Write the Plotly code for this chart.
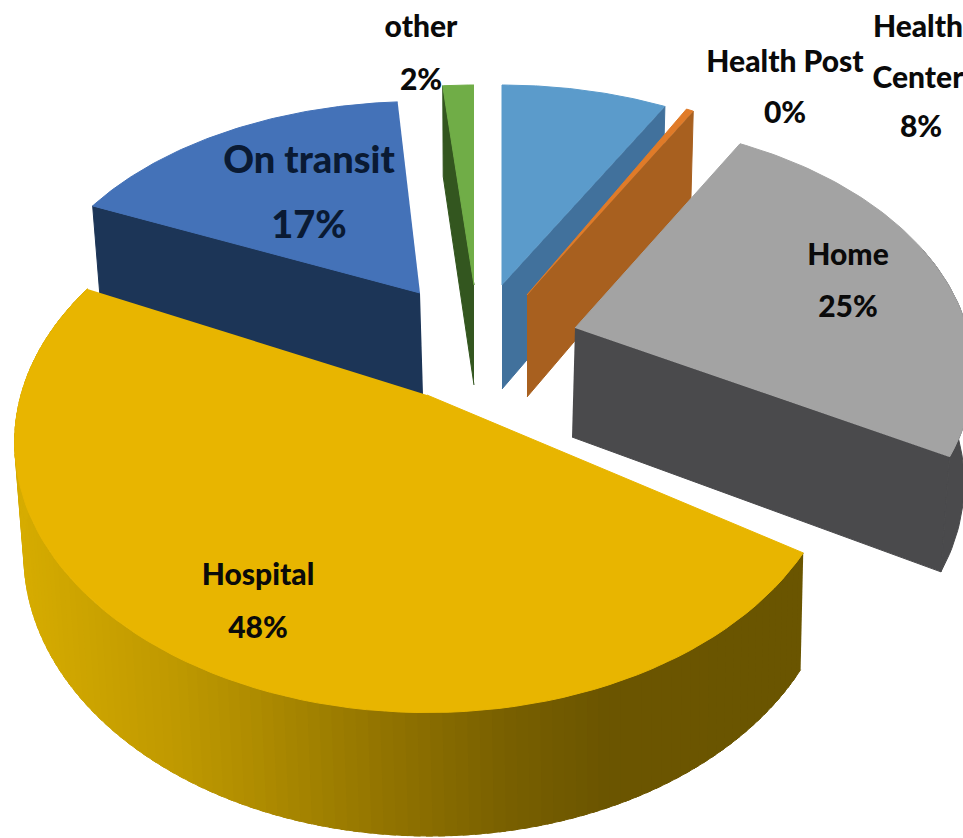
import numpy as np
import plotly.graph_objects as go

# data (clockwise from 12 o'clock)
categories = ["Health Center", "Health Post", "Home", "Hospital", "On transit", "other"]
values = [8.0, 0.4, 25.0, 48.0, 17.1, 1.5]

# styles / layout, per category
top_colors = ["#5B9BCB", "#E07B28", "#A3A3A3", "#E8B500", "#4472B8", "#70AD47"]
wall_colors = ["#41719C", "#A8601F", "#4A4A4C", "#6B5500", "#1C3557", "#33561F"]
apex_x = [502, 527, 575, 427, 420, 474]
apex_y = [285, 295, 328, 395, 293, 285]
radius_x = [390, 380, 392, 406, 386, 390]
radius_y = [235, 245, 243, 262, 225, 235]
wall_h = [104, 102, 109, 110, 102, 100]
wall_dx = [0, 0, -3, 3, 3, 0]
rotation = [0, 0, -1.2, 2.8, 1.5, 0]
draw_order = [5, 0, 1, 4, 2, 3]
# which radial face shows for each drawn slice ("start", "end" or None)
radial_face = {"Health Center": "end", "Health Post": "end", "Home": "end",
               "Hospital": None, "On transit": "start", "other": "start"}

PERSP = 0.175
label_names = ["other", "Health Post", "Health", "Center", "Home", "Hospital", "On transit"]
name_x = [421, 785, 918, 918, 848, 258, 309]
name_y = [29, 64, 29, 80, 257, 577, 163]
name_size = [30, 30, 30, 30, 30, 30, 38]
name_color = ["#0A0A0A"] * 6 + ["#0A1A33"]
pct_labels = ["2%", "0%", "8%", "25%", "48%", "17%"]
pct_x = [421, 785, 921, 848, 258, 309]
pct_y = [82, 115, 129, 309, 630, 228]
pct_size = [30, 30, 30, 30, 30, 38]
pct_color = ["#0A0A0A"] * 5 + ["#0A1A33"]
FONT = "Lato"

# hospital rim gradient: x position -> colour
grad_x = [20, 100, 170, 250, 320, 400, 500, 600, 810]
grad_rgb = [(214, 172, 0), (202, 162, 0), (192, 154, 0), (176, 141, 0), (160, 128, 0),
            (143, 113, 0), (122, 97, 0), (108, 86, 0), (106, 85, 0)]

total = sum(values)
edges = np.concatenate([[0], np.cumsum(values)]) / total * 360


def top_pt(i, deg):
    t = np.radians(deg)
    s = 1 / (1 + PERSP * np.cos(t))
    return apex_x[i] + radius_x[i] * np.sin(t) * s, apex_y[i] - radius_y[i] * np.cos(t) * s


def bottom_pt(i, deg):
    x, y = top_pt(i, deg)
    s = 1 / (1 + PERSP * np.cos(np.radians(deg)))
    return apex_x[i] + wall_dx[i] + (x - apex_x[i]) * 0.985, y + wall_h[i] * s ** 0.6


def apex_bottom(i):
    return apex_x[i] + wall_dx[i], apex_y[i] + wall_h[i]


def poly(xs, ys, color):
    return go.Scatter(x=list(xs), y=list(ys), mode="lines", fill="toself", fillcolor=color,
                      line=dict(color=color, width=1), hoverinfo="skip", showlegend=False)


fig = go.Figure()
for i in draw_order:
    name = categories[i]
    a, b = edges[i] + rotation[i], edges[i + 1] + rotation[i]
    ts = np.linspace(a, b, 90)
    # visible radial face
    face = radial_face[name]
    if face:
        deg = a if face == "start" else b
        x0, y0 = top_pt(i, deg)
        x1, y1 = bottom_pt(i, deg)
        ax, ay = apex_bottom(i)
        fig.add_trace(poly([apex_x[i], x0, x1, ax], [apex_y[i], y0, y1, ay], wall_colors[i]))
    # outer rim
    if name == "Hospital":
        seg = np.linspace(a, b, 120)
        for u, v in zip(seg[:-1], seg[1:]):
            m = (u + v) / 2
            mx = top_pt(i, m)[0]
            rgb = [int(np.interp(mx, grad_x, [c[k] for c in grad_rgb])) for k in range(3)]
            col = "rgb(%d,%d,%d)" % tuple(rgb)
            v2 = min(v + 0.8, b)
            p = [top_pt(i, u), top_pt(i, v2), bottom_pt(i, v2), bottom_pt(i, u)]
            fig.add_trace(poly([q[0] for q in p], [q[1] for q in p], col))
    if name == "Home":
        seg = np.linspace(70, b, 40)
        up = [top_pt(i, d) for d in seg]
        lo = [bottom_pt(i, d) for d in seg[::-1]]
        fig.add_trace(poly([q[0] for q in up + lo], [q[1] for q in up + lo], wall_colors[i]))
    # top face
    arc = [top_pt(i, d) for d in ts]
    fig.add_trace(poly([apex_x[i]] + [q[0] for q in arc], [apex_y[i]] + [q[1] for q in arc], top_colors[i]))

fig.add_trace(go.Scatter(x=name_x, y=name_y, text=label_names, mode="text", textposition="middle center",
                         textfont=dict(family=FONT, size=name_size, color=name_color, weight=900),
                         hoverinfo="skip", showlegend=False, cliponaxis=False))
fig.add_trace(go.Scatter(x=pct_x, y=pct_y, text=pct_labels, mode="text", textposition="middle center",
                         textfont=dict(family=FONT, size=pct_size, color=pct_color, weight=900),
                         hoverinfo="skip", showlegend=False, cliponaxis=False))

fig.update_layout(width=963, height=838, margin=dict(l=0, r=0, t=0, b=0),
                  paper_bgcolor="white", plot_bgcolor="white",
                  xaxis=dict(range=[0, 963], visible=False, fixedrange=True),
                  yaxis=dict(range=[838, 0], visible=False, fixedrange=True))
fig.write_html("out.html", config={"displayModeBar": False},
               post_script="document.body.style.margin='0';document.documentElement.style.overflow='hidden';")
